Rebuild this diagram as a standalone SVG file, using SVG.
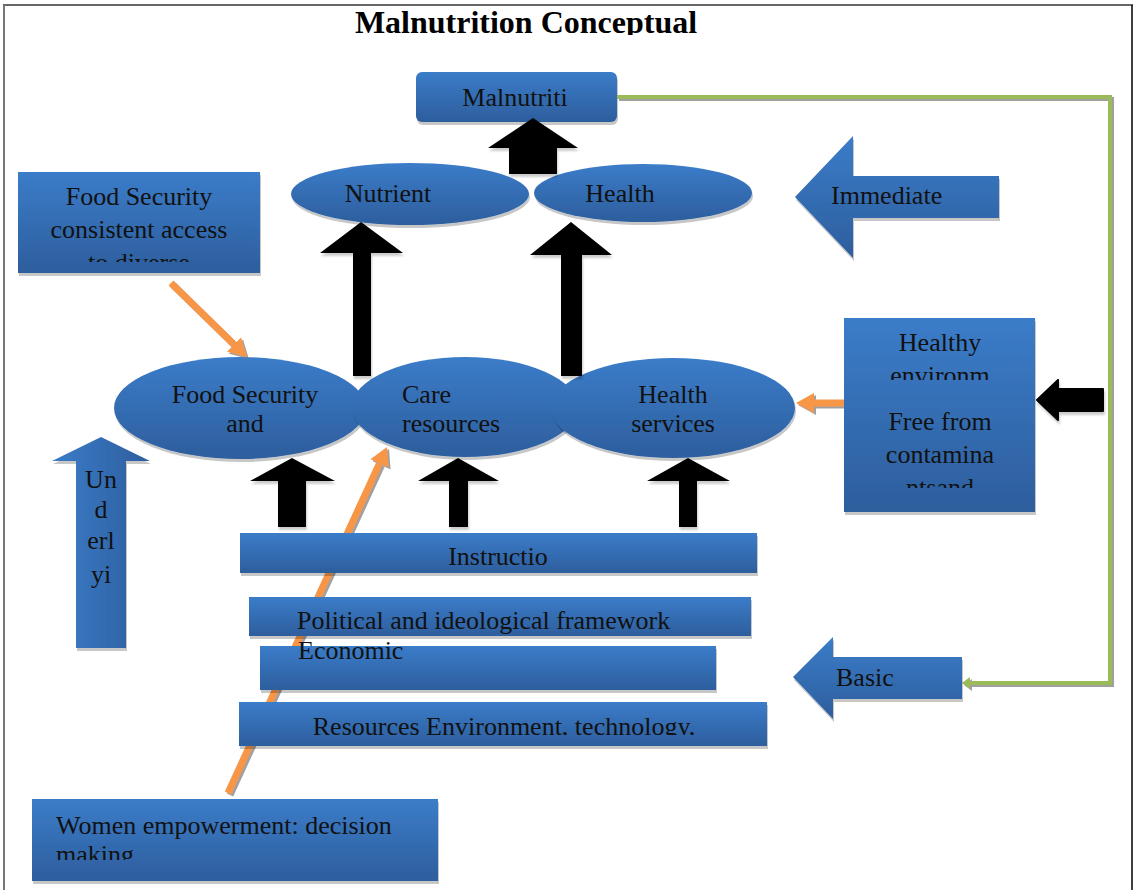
<svg xmlns="http://www.w3.org/2000/svg" width="1136" height="890" viewBox="0 0 1136 890">
<style>
.t{font-family:"Liberation Serif","Times New Roman",serif;font-size:26px;fill:#111}
.c{text-anchor:middle}
.title{font-family:"Liberation Serif","Times New Roman",serif;font-size:32px;font-weight:bold;fill:#000;text-anchor:middle}
.bx{fill:url(#gb);filter:url(#sh)}
.bh{fill:url(#gh);filter:url(#sh)}
.blk{fill:#000;filter:url(#bsh)}
.or{stroke:#F79646;stroke-width:7;fill:none;marker-end:url(#mo)}
</style>
<defs>
<linearGradient id="gb" x1="0" y1="0" x2="0" y2="1"><stop offset="0" stop-color="#3B7CC9"/><stop offset="1" stop-color="#2D5E9D"/></linearGradient>
<linearGradient id="gh" x1="0" y1="0" x2="1" y2="0"><stop offset="0" stop-color="#3B7CC9"/><stop offset="1" stop-color="#2D5E9D"/></linearGradient>
<filter id="sh" x="-5%" y="-10%" width="115%" height="130%"><feDropShadow dx="1" dy="3" stdDeviation="0.7" flood-color="#000" flood-opacity="0.22"/></filter>
<filter id="bsh" x="-10%" y="-10%" width="130%" height="130%"><feDropShadow dx="1" dy="3" stdDeviation="0.8" flood-color="#000" flood-opacity="0.2"/></filter>
<filter id="osh" x="-10%" y="-10%" width="130%" height="130%"><feDropShadow dx="2" dy="2" stdDeviation="0.5" flood-color="#777" flood-opacity="0.7"/></filter>
<marker id="mo" markerUnits="userSpaceOnUse" markerWidth="20" markerHeight="22" viewBox="0 -11 20 22" refX="0" refY="0" orient="auto"><path d="M0,-10 L18,0 L0,10 Z" fill="#F79646"/></marker>
<marker id="mg" markerUnits="userSpaceOnUse" markerWidth="10" markerHeight="14" viewBox="0 -7 10 14" refX="0" refY="0" orient="auto"><path d="M0,-6 L8,0 L0,6 Z" fill="#9BBB59"/></marker>
<clipPath id="cTitle"><rect x="0" y="0" width="1136" height="35"/></clipPath>
<clipPath id="cFood"><rect x="18" y="172" width="242" height="90"/></clipPath>
<clipPath id="cHe1"><rect x="844" y="318" width="190" height="62"/></clipPath>
<clipPath id="cHe2"><rect x="844" y="395" width="190" height="93"/></clipPath>
<clipPath id="cRes"><rect x="239" y="702" width="528" height="33"/></clipPath>
<clipPath id="cWom"><rect x="32" y="799" width="406" height="61"/></clipPath>
</defs>
<rect width="1136" height="890" fill="#fff"/>
<g id="frame">
<line x1="3" y1="5" x2="1133" y2="5" stroke="#666" stroke-width="2"/>
<line x1="4" y1="5" x2="4" y2="890" stroke="#777" stroke-width="2"/>
<line x1="1132" y1="5" x2="1132" y2="890" stroke="#000" stroke-width="1.5"/>
</g>
<text class="title" x="526" y="33" clip-path="url(#cTitle)">Malnutrition Conceptual</text>

<g id="malnutrition"><rect class="bx" x="416" y="72" width="201" height="50" rx="6"/><text class="t c" x="515" y="106">Malnutriti</text></g>
<g id="nutrient"><ellipse class="bx" cx="410" cy="194" rx="119" ry="31"/><text class="t c" x="388" y="202">Nutrient</text></g>
<g id="health"><ellipse class="bx" cx="643" cy="193" rx="109" ry="29"/><text class="t c" x="620" y="202">Health</text></g>
<g id="immediate"><path class="bx" d="M795,197 L853,136 L853,176 L999,176 L999,218 L853,218 L853,258 Z"/><text class="t" x="831" y="204">Immediate</text></g>
<g id="food-box"><rect class="bx" x="18" y="172" width="242" height="101"/><text class="t c" clip-path="url(#cFood)"><tspan x="139" y="205">Food Security</tspan><tspan x="139" y="238">consistent access</tspan><tspan x="139" y="271">to diverse</tspan></text></g>
<g id="food-security"><ellipse class="bx" cx="240" cy="408" rx="126" ry="51"/><text class="t c"><tspan x="245" y="403">Food Security</tspan><tspan x="245" y="432">and</tspan></text></g>
<g id="care"><ellipse class="bx" cx="465" cy="407" rx="113" ry="50"/><text class="t"><tspan x="402" y="403">Care</tspan><tspan x="402" y="432">resources</tspan></text></g>
<g id="health-services"><ellipse class="bx" cx="673" cy="408" rx="122" ry="50"/><text class="t c"><tspan x="673" y="403">Health</tspan><tspan x="673" y="432">services</tspan></text></g>

<g id="connectors">
<path class="blk" d="M533,118 L578,148 L557,148 L557,174 L509,174 L509,148 L488,148 Z"/>
<path class="blk" d="M361,222 L403,253 L371,253 L371,376 L353,376 L353,253 L320,253 Z"/>
<path class="blk" d="M571,222 L612,255 L582,255 L582,376 L561,376 L561,255 L530,255 Z"/>
<path class="blk" d="M292,458 L335,481 L306,481 L306,527 L278,527 L278,481 L250,481 Z"/>
<path class="blk" d="M458,458 L499,481 L468,481 L468,527 L449,527 L449,481 L418,481 Z"/>
<path class="blk" d="M688,458 L730,481 L697,481 L697,527 L679,527 L679,481 L647,481 Z"/>
<path class="blk" d="M1037,400 L1058,380 L1058,389 L1103,389 L1103,411 L1058,411 L1058,420 Z" stroke="#000" stroke-width="2" stroke-linejoin="round"/>
<g filter="url(#osh)">
<line class="or" x1="171" y1="283" x2="234" y2="344.5"/>
<line class="or" x1="228" y1="793" x2="379.5" y2="463.4"/>
<line class="or" x1="844" y1="403" x2="814" y2="403"/>
</g>
<polyline points="617,97 1110,97 1110,683 970,683" fill="none" stroke="#9BBB59" stroke-width="4" marker-end="url(#mg)" filter="url(#osh)"/>
</g>

<g id="healthy-env"><rect class="bx" x="844" y="318" width="191" height="194"/>
<text class="t c" clip-path="url(#cHe1)"><tspan x="940" y="351">Healthy</tspan><tspan x="940" y="384">environm</tspan></text>
<text class="t c" clip-path="url(#cHe2)"><tspan x="940" y="430">Free from</tspan><tspan x="940" y="463">contamina</tspan><tspan x="940" y="496">ntsand</tspan></text></g>
<g id="underlying"><path class="bh" d="M101,437 L150,461 L126,461 L126,648 L76,648 L76,461 L52,461 Z"/>
<text class="t c"><tspan x="101" y="488">Un</tspan><tspan x="101" y="518">d</tspan><tspan x="101" y="549">erl</tspan><tspan x="101" y="583">yi</tspan></text></g>
<g id="institutions"><rect class="bx" x="240" y="533" width="517" height="40"/><text class="t c" x="498" y="565">Instructio</text></g>
<g id="political"><rect class="bx" x="249" y="597" width="502" height="39"/><text class="t" x="297" y="629">Political and ideological framework</text></g>
<g id="economic"><rect class="bx" x="260" y="646" width="456" height="44"/><text class="t" x="298" y="659">Economic</text></g>
<g id="resources"><rect class="bx" x="239" y="702" width="528" height="44"/><text class="t c" x="504" y="735" clip-path="url(#cRes)">Resources Environment, technology,</text></g>
<g id="basic"><path class="bx" d="M793,677 L833,637 L833,657 L962,657 L962,699 L833,699 L833,719 Z"/><text class="t" x="836" y="686">Basic</text></g>
<g id="women"><rect class="bx" x="32" y="799" width="406" height="82"/><text class="t" clip-path="url(#cWom)"><tspan x="56" y="834">Women empowerment: decision</tspan><tspan x="56" y="863">making</tspan></text></g>
</svg>
